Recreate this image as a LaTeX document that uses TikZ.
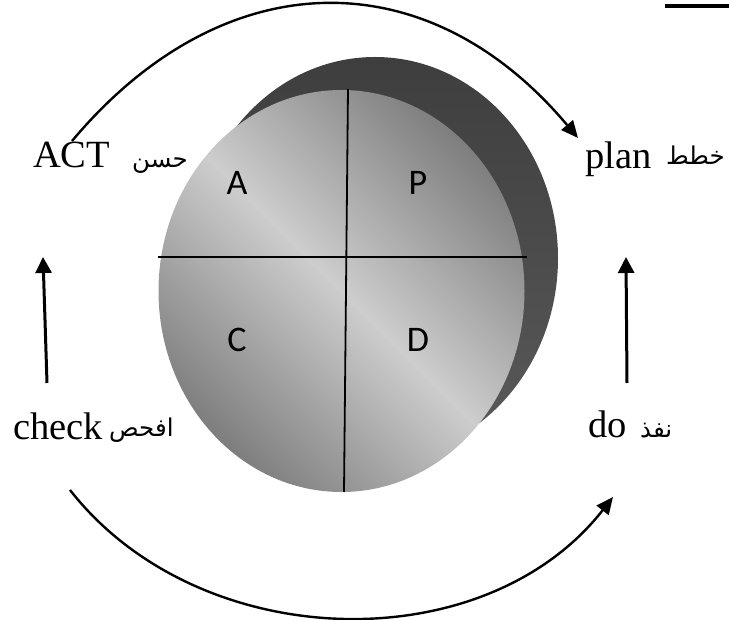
\documentclass[tikz,border=0pt]{standalone}
\usepackage{fontspec}
\setmainfont{Liberation Serif}
\newfontfamily\arabicfont[Script=Arabic]{DejaVu Sans}
\newfontfamily\quadfont{Carlito}
\TeXXeTstate=1
\usetikzlibrary{arrows.meta}
\definecolor{discdark}{HTML}{7E7E7E}
\definecolor{disclight}{HTML}{CDCDCD}
\definecolor{backtop}{HTML}{3E3E3E}
\definecolor{backbot}{HTML}{5A5A5A}
\begin{document}
\begin{tikzpicture}[x=1pt,y=-1pt,
  lat/.style={font=\fontsize{38.5}{40}\selectfont, inner sep=0pt, anchor=base west},
  ar/.style={font=\arabicfont\fontsize{24.5}{28}\selectfont, inner sep=0pt, anchor=base west},
  quad/.style={font=\quadfont\fontsize{36}{38}\selectfont, inner sep=0pt},
  arcarrow/.style={line width=2.4pt, -{Triangle[length=17pt,width=15pt]}},
  vertarrow/.style={line width=3pt, -{Triangle[length=16pt,width=16pt]}},
  divider/.style={line width=1.8pt}]
\useasboundingbox (0,0) rectangle (729,620);
% back disc
\shade[top color=backtop, bottom color=backbot] (375,258) ellipse [x radius=183, y radius=201];
% front disc
\shade[left color=discdark, right color=discdark, middle color=disclight, shading angle=-45]
  (341.5,291) ellipse [x radius=183, y radius=201];
% dividers
\coordinate (vtop) at (348,89);
\coordinate (vbot) at (344,492);
\coordinate (hl) at (158,257);
\coordinate (hr) at (527,257);
\draw[divider] (vtop) -- (vbot);
\draw[divider] (hl) -- (hr);
% quadrant letters
\node[quad] (qa) at (237,183) {A};
\node[quad] (qp) at (418,183) {P};
\node[quad] (qc) at (237,340) {C};
\node[quad] (qd) at (418,340) {D};
% labels
\node[lat] (act) at (33,168) {ACT};
\node[ar] (actar) at (132,168) {\beginR حسن\endR};
\node[lat] (plan) at (585,169) {plan};
\node[ar] (planar) at (666,165) {\beginR خطط\endR};
\node[lat] (check) at (13,440) {check};
\node[ar] (checkar) at (109,437) {\beginR افحص\endR};
\node[lat] (do) at (588,438) {do};
\node[ar] (doar) at (640,438) {\beginR نفذ\endR};
% connectors
\coordinate (topS) at (72,141);
\coordinate (topE) at (578,138);
\coordinate (botS) at (70,490);
\coordinate (botE) at (613,497);
\coordinate (lS) at (47,383);
\coordinate (lE) at (43,257);
\coordinate (rS) at (627,383);
\coordinate (rE) at (626,257);
\draw[arcarrow] (topS) .. controls (223,-39) and (427,-42) .. (topE);
\draw[arcarrow] (botS) .. controls (199,655) and (484,662) .. (botE);
\draw[vertarrow] (lS) -- (lE);
\draw[vertarrow] (rS) -- (rE);
% top-right rule
\coordinate (ruleL) at (665,6);
\coordinate (ruleR) at (729,6);
\draw[line width=3.5pt] (ruleL) -- (ruleR);
\end{tikzpicture}
\end{document}
